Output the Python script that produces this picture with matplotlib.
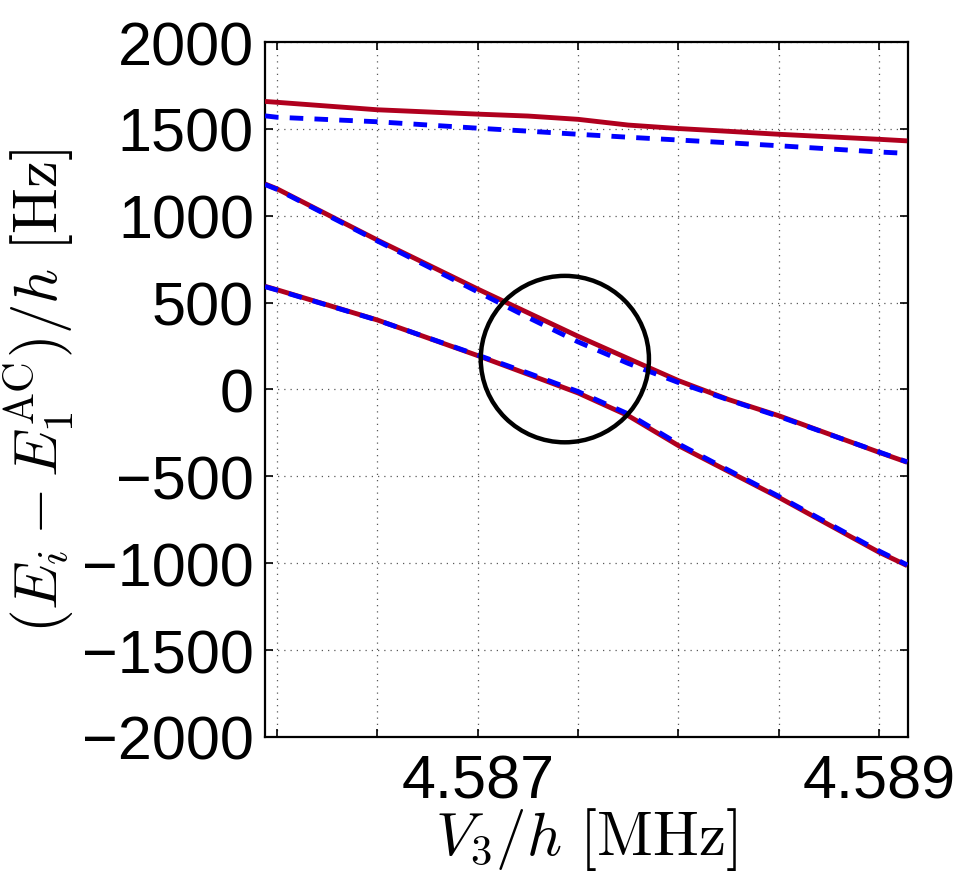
"""
Avoided crossing of three levels vs V3/h
"""

import matplotlib
matplotlib.use('Agg')
import matplotlib.pyplot as plt
from matplotlib.patches import Ellipse

plt.rcParams['font.family'] = ['Liberation Sans', 'DejaVu Sans']
plt.rcParams['mathtext.fontset'] = 'cm'

# V3/h in MHz
v3 = [4.58594, 4.586, 4.5865, 4.587, 4.58725, 4.5875, 4.58775,
      4.588, 4.58825, 4.5885, 4.589, 4.58914]

# exact levels (solid red), Hz
red_top = [1658, 1653, 1610, 1585, 1574, 1555, 1522, 1502, 1486, 1469, 1440, 1431]
red_mid = [1183, 1155, 860, 578, 442, 306, 178, 51, -58, -151, -362, -419]
red_low = [594, 574, 400, 195, 88, -20, -151, -323, -472, -621, -937, -1014]

# approximate levels (dashed blue), Hz
blue_top = [1575, 1567, 1541, 1504, 1487, 1469, 1452, 1436, 1420, 1403, 1367, 1359]
blue_mid = [1180, 1152, 855, 562, 415, 274, 150, 40, -60, -155, -360, -417]
blue_low = [592, 572, 399, 198, 95, -12, -141, -313, -465, -615, -930, -1010]

# highlighted region
circ_x, circ_y = 4.587434, 175
circ_w, circ_h = 0.000838, 958

xticks = [4.586, 4.5865, 4.587, 4.5875, 4.588, 4.5885, 4.589]
xticklabels = ['', '', '4.587', '', '', '', '4.589']
yticks = list(range(-2000, 2001, 500))

red = '#B0001E'
blue = '#0000FF'

fig = plt.figure(figsize=(9.65, 8.78), dpi=100)
ax = fig.add_axes([0.2746, 0.1595, 0.6664, 0.7915])

for y in (red_top, red_mid, red_low):
    ax.plot(v3, y, color=red, lw=3.5, solid_capstyle='butt', zorder=3)
for y in (blue_top, blue_mid, blue_low):
    ax.plot(v3, y, color=blue, lw=3.5, dashes=(2.8, 2.3), zorder=4)

ax.add_patch(Ellipse((circ_x, circ_y), circ_w, circ_h, fill=False,
                     edgecolor='black', lw=3.2, zorder=5))

ax.set_xlim(4.58594, 4.589144)
ax.set_ylim(-2000, 2000)
ax.set_xticks(xticks)
ax.set_xticklabels(xticklabels)
ax.set_yticks(yticks)

ax.grid(True, linestyle=(0, (1, 4)), color='0.35', lw=0.9)
ax.tick_params(direction='in', top=True, right=True, length=6, width=1.2,
               labelsize=44, pad=8)
ax.tick_params(axis='x', pad=12)
for s in ax.spines.values():
    s.set_linewidth(1.6)

ax.set_xlabel(r'$V_3/h\ [\mathrm{MHz}]$', fontsize=44, labelpad=-4)
ax.set_ylabel(r'$(E_i - E_1^{\mathrm{AC}})/h\ [\mathrm{Hz}]$', fontsize=44,
              labelpad=4)

fig.savefig('out.png', dpi=100)
